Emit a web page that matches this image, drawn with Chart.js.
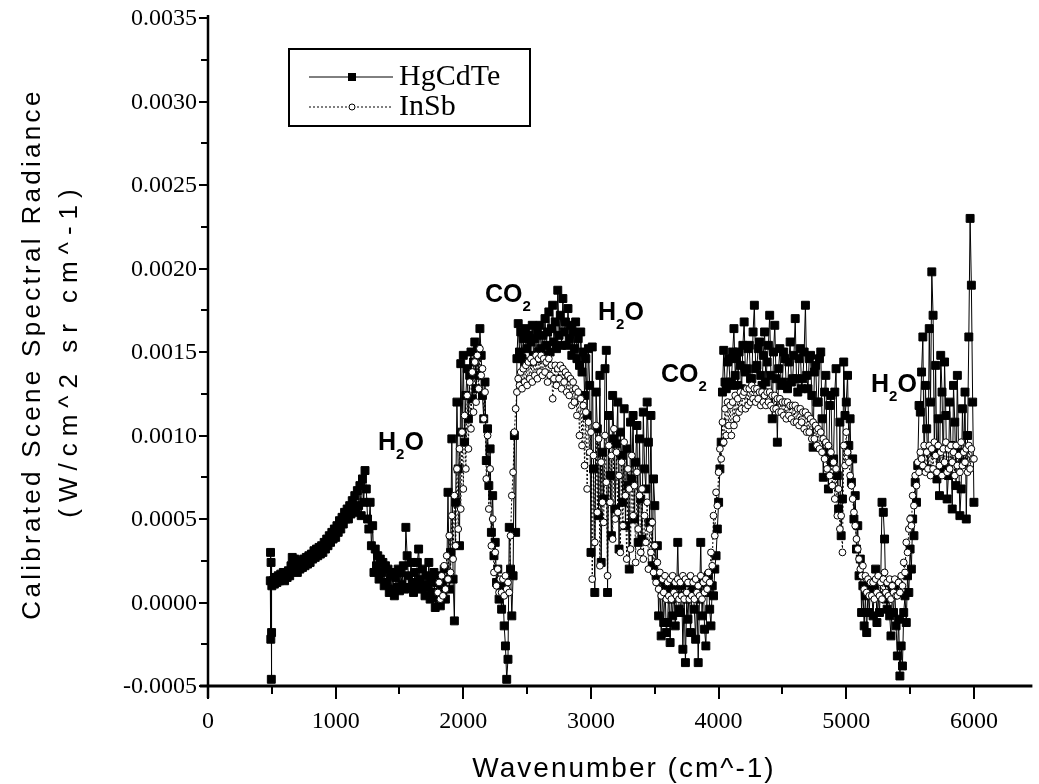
<!DOCTYPE html>
<html>
<head>
<meta charset="utf-8">
<script src="https://cdn.jsdelivr.net/npm/chart.js@4.4.1/dist/chart.umd.min.js"></script>
<style>
  body { margin: 0; background: #fff; }
  #wrap { width: 1039px; height: 784px; }
</style>
</head>
<body>
<div id="wrap"><canvas id="specChart" width="1039" height="784"></canvas></div>
<script>
// radiance values are listed in units of 1e-4 W/cm^2 sr cm^-1
const RAD_UNIT = 1e-4;
const WN_STEP = 10;

// HgCdTe: a few points at the band edge, then a regular grid from 500 cm^-1
const hgEdgeWn = [488, 490, 492, 494, 496, 498];
const hgEdgeRad = [1.3, 3.0, -2.2, 2.4, -4.6, -1.8];
const hgStart = 500;
const hgRad = [
  1.0, 1.3, 1.1, 1.5, 1.2, 1.6, 1.3, 1.7, 1.4, 1.8,            // 500
  1.3, 1.7, 1.5, 1.9, 1.6, 2.2, 2.7, 2.4, 2.6, 2.0,            // 600
  1.8, 2.3, 2.0, 2.5, 2.1, 2.6, 2.2, 2.7, 2.3, 2.8,            // 700
  2.4, 2.9, 2.6, 3.1, 2.7, 3.2, 2.8, 3.3, 2.9, 3.4,            // 800
  3.0, 3.6, 3.2, 3.8, 3.4, 4.0, 3.6, 4.2, 3.8, 4.4,            // 900
  3.9, 4.6, 4.2, 4.9, 4.4, 5.1, 4.7, 5.4, 5.0, 5.6,            // 1000
  5.0, 5.8, 5.3, 6.1, 5.6, 6.4, 5.4, 6.7, 5.8, 7.0,            // 1100
  5.2, 7.4, 6.0, 7.9, 6.8, 5.0, 4.4, 6.0, 3.4, 4.6,            // 1200
  1.8, 3.2, 2.2, 2.8, 1.4, 2.6, 1.8, 2.4, 1.0, 2.2,            // 1300
  1.2, 2.0, 0.6, 1.6, 0.8, 1.8, 0.4, 1.5, 0.9, 2.0,            // 1400
  0.7, 1.8, 1.1, 2.2, 0.8, 4.5, 2.8, 1.6, 0.9, 2.4,            // 1500
  1.2, 0.6, 1.8, 1.0, 2.4, 3.2, 1.4, 0.8, 2.0, 1.1,            // 1600
  0.4, 1.6, 0.9, 2.4, 0.2, 1.4, 0.6, 1.8, -0.3, 1.2,           // 1700
  0.3, 1.6, -0.2, 1.0, 0.5, 2.0, 0.2, 1.4, 6.6, 0.8,           // 1800
  3.0, 9.8, 1.4, -1.1, 6.0, 12.0, 8.0, 3.4, 14.3, 10.2,        // 1900
  14.8, 9.6, 12.4, 14.0, 11.0, 13.6, 15.0, 12.2, 14.4, 15.6,   // 2000
  12.8, 15.2, 13.6, 16.4, 14.8, 12.4, 11.0, 13.2, 8.5, 10.4,   // 2100
  7.0, 9.2, 4.2, 6.4, 2.8, 3.6, 1.2, 2.0, 0.2, 0.8,            // 2200
  -0.4, 1.0, -1.4, -2.6, -4.6, -3.4, 4.5, 2.0, -0.8, 1.6,      // 2300
  10.0, 4.2, 14.6, 16.7, 15.0, 16.2, 14.6, 15.8, 14.4, 16.4,   // 2400
  15.2, 16.0, 14.4, 15.6, 16.6, 14.8, 15.8, 14.6, 16.2, 15.0,  // 2500
  16.6, 15.2, 16.0, 14.8, 17.0, 15.4, 16.2, 17.4, 15.0, 16.4,  // 2600
  17.8, 15.6, 16.8, 15.2, 18.7, 16.0, 17.2, 15.4, 18.2, 16.2,  // 2700
  16.8, 15.4, 17.6, 15.8, 16.6, 14.8, 16.2, 15.2, 16.8, 14.6,  // 2800
  15.8, 14.2, 16.2, 13.8, 15.0, 12.4, 14.6, 11.2, 15.2, 13.0,  // 2900
  3.0, 15.3, 8.0, 0.6, 12.6, 10.4, 5.2, 13.6, 2.4, 9.0,        // 3000
  6.2, 14.0, 15.1, 0.6, 11.2, 7.6, 4.0, 12.4, 9.8, 5.6,        // 3100
  9.5, 12.0, 3.2, 10.2, 8.8, 6.0, 11.6, 4.6, 9.2, 7.0,         // 3200
  2.0, 10.8, 7.4, 11.2, 5.0, 8.4, 10.6, 3.6, 9.8, 6.2,         // 3300
  3.8, 11.4, 8.0, 6.8, 12.0, 9.6, 4.8, 11.2, 2.2, 7.4,         // 3400
  5.8, 1.6, 3.4, -0.8, 1.4, -2.0, 0.6, -1.2, 1.0, -1.8,        // 3500
  -1.2, 0.8, -2.4, 0.2, -0.8, 1.0, -1.4, 0.4, 3.6, -0.4,       // 3600
  -0.6, 1.0, -2.8, 0.4, -3.6, 0.2, -1.0, 1.2, -1.8, 0.6,       // 3700
  1.0, -0.4, -2.2, 0.8, -3.6, 0.2, 3.6, -0.8, 1.2, -1.6,       // 3800
  -2.6, 0.6, 1.6, -0.4, -1.4, 1.0, 0.4, 2.0, 2.8, 4.4,         // 3900
  6.0, 8.0, 9.6, 12.6, 15.1, 13.2, 12.8, 14.4, 14.6, 13.0,     // 4000
  13.2, 15.0, 16.4, 13.6, 14.6, 13.0, 15.0, 14.2, 12.8, 15.4,  // 4100
  16.8, 13.8, 14.0, 15.2, 15.4, 13.4, 13.4, 16.2, 17.8, 14.0,  // 4200
  14.2, 15.2, 15.6, 13.6, 13.0, 14.8, 16.2, 13.2, 14.4, 15.4,  // 4300
  17.2, 13.6, 11.0, 15.0, 16.6, 13.4, 9.6, 14.0, 15.2, 13.0,   // 4400
  13.2, 15.0, 14.6, 13.0, 12.8, 14.4, 15.6, 13.2, 13.4, 14.8,  // 4500
  17.0, 13.4, 12.6, 14.6, 15.2, 12.8, 13.4, 15.0, 17.8, 13.6,  // 4600
  12.8, 14.6, 14.8, 12.4, 9.3, 13.8, 14.2, 12.0, 12.0, 14.6,   // 4700
  15.0, 11.0, 7.5, 12.6, 13.6, 9.0, 6.8, 11.8, 12.4, 8.4,      // 4800
  8.6, 12.6, 14.0, 7.6, 5.6, 10.8, 4.0, 6.2, 14.4, 11.2,       // 4900
  12.0, 13.6, 9.4, 11.0, 7.2, 8.6, 5.0, 6.4, 3.2, 4.6,         // 5000
  1.6, 2.6, -0.6, 1.0, -1.4, 0.4, -1.8, 0.8, -0.6, 1.2,        // 5100
  0.6, -0.8, 1.0, 2.0, -1.2, 0.4, -0.6, 1.4, 6.0, 5.4,         // 5200
  3.8, 0.2, -0.4, 1.2, -0.8, -2.0, 0.6, -0.6, 0.8, -1.4,       // 5300
  -3.2, -1.0, -4.4, -2.6, -3.8, -0.6, 0.4, -1.2, 1.6, 0.6,     // 5400
  3.2, 2.0, 5.0, 4.0, 7.2, 6.0, 8.2, 11.8, 11.4, 13.8,         // 5500
  15.9, 8.0, 13.0, 10.4, 8.0, 16.4, 12.0, 19.8, 17.2, 9.0,     // 5600
  14.2, 7.4, 11.0, 6.4, 14.8, 12.6, 8.0, 14.4, 11.2, 6.2,      // 5700
  7.6, 12.0, 9.4, 5.6, 13.0, 10.8, 7.0, 13.6, 9.0, 5.2,        // 5800
  6.8, 11.6, 8.4, 12.6, 5.0, 10.0, 15.9, 23.0, 19.0, 12.0,     // 5900
  6.0                                                          // 6000
];

// InSb: regular grid from 1800 cm^-1
const inStart = 1800;
const inRad = [
  0.6, 1.2, 0.2, 1.6, 0.4, 2.2, 0.8, 2.8, 1.4, 4.0,            // 1800
  1.8, 5.2, 2.6, 6.4, 3.4, 8.0, 4.4, 9.2, 5.6, 10.2,           // 1900
  6.8, 11.2, 8.0, 12.4, 9.2, 13.2, 10.4, 13.8, 11.4, 14.4,     // 2000
  12.0, 14.8, 12.8, 15.2, 13.6, 14.0, 11.0, 12.6, 7.4, 10.0,   // 2100
  5.6, 8.0, 3.4, 5.0, 1.8, 3.0, 1.0, 2.0, 0.6, 1.4,            // 2200
  0.6, 1.4, 0.4, 1.6, 0.8, 1.2, 0.6, 4.0, 6.4, 7.8,            // 2300
  10.2, 11.6, 12.6, 13.4, 13.0, 13.8, 12.8, 14.0, 13.2, 14.2,  // 2400
  13.0, 14.4, 13.4, 14.6, 13.2, 14.4, 13.6, 14.8, 13.4, 14.6,  // 2500
  13.8, 14.8, 13.6, 14.6, 13.8, 14.4, 13.2, 14.6, 13.6, 14.2,  // 2600
  12.2, 13.4, 14.2, 13.0, 14.0, 13.4, 14.2, 12.8, 14.0, 13.2,  // 2700
  13.8, 12.6, 13.6, 12.4, 13.4, 11.8, 13.2, 12.0, 12.8, 11.2,  // 2800
  12.6, 10.0, 12.2, 9.4, 11.8, 8.2, 11.4, 6.8, 10.8, 9.0,      // 2900
  10.2, 1.4, 8.8, 3.6, 10.6, 5.4, 9.8, 2.2, 8.4, 6.0,          // 3000
  4.8, 10.0, 7.2, 1.6, 9.4, 6.0, 8.8, 3.8, 10.4, 5.0,          // 3100
  9.0, 5.4, 7.6, 3.0, 8.4, 4.6, 9.6, 6.4, 2.6, 8.0,            // 3200
  6.8, 3.2, 8.8, 5.2, 7.0, 2.4, 7.8, 4.4, 6.4, 3.0,            // 3300
  6.8, 2.6, 5.2, 3.6, 6.0, 2.0, 4.4, 3.0, 4.8, 1.8,            // 3400
  3.4, 1.2, 2.4, 0.8, 1.8, 0.4, 1.4, 0.6, 1.6, 0.2,            // 3500
  1.2, 0.4, 1.4, 0.2, 1.6, 0.6, 1.2, 0.4, 1.4, 0.2,            // 3600
  1.2, 0.4, 1.6, 0.2, 1.4, 0.6, 1.2, 0.2, 1.6, 0.4,            // 3700
  1.2, 0.2, 1.4, 0.6, 1.0, 0.4, 1.6, 0.2, 1.2, 0.6,            // 3800
  1.4, 0.8, 1.8, 1.2, 3.0, 2.2, 5.2, 4.0, 6.6, 5.8,            // 3900
  7.8, 9.2, 8.6, 10.8, 9.6, 11.6, 10.0, 12.0, 10.6, 11.8,      // 4000
  10.0, 12.0, 10.6, 12.4, 11.0, 12.2, 11.4, 12.6, 11.6, 12.4,  // 4100
  12.6, 11.6, 12.8, 11.8, 12.8, 12.0, 13.0, 12.2, 12.8, 12.0,  // 4200
  12.8, 12.2, 12.6, 11.8, 12.6, 12.0, 12.4, 11.8, 12.6, 12.0,  // 4300
  12.6, 11.8, 12.4, 11.6, 12.4, 11.6, 12.2, 11.4, 12.2, 11.4,  // 4400
  12.0, 11.2, 12.0, 11.0, 12.0, 11.2, 11.8, 11.0, 11.8, 10.8,  // 4500
  11.8, 10.8, 11.6, 10.6, 11.6, 10.8, 11.4, 10.4, 11.4, 10.2,  // 4600
  11.2, 10.2, 11.0, 9.8, 10.8, 9.8, 10.6, 9.4, 10.4, 9.2,      // 4700
  10.2, 9.0, 9.8, 8.6, 9.6, 8.0, 9.4, 7.6, 9.0, 7.0,           // 4800
  8.4, 6.2, 8.0, 5.2, 6.8, 4.4, 5.2, 3.0, 9.4, 8.2,            // 4900
  10.2, 9.0, 8.4, 7.6, 7.0, 6.2, 5.4, 4.6, 3.8, 3.2,           // 5000
  2.6, 2.0, 1.6, 2.2, 0.8, 1.6, 0.6, 1.4, 0.4, 1.2,            // 5100
  0.4, 1.2, 0.2, 1.4, 0.6, 1.6, 0.4, 1.2, 0.2, 1.4,            // 5200
  1.8, 0.6, 1.2, 0.4, 1.4, 0.2, 1.0, 0.6, 1.4, 0.4,            // 5300
  0.4, 1.2, 0.6, 1.6, 1.0, 2.4, 1.8, 3.6, 3.0, 4.4,            // 5400
  5.0, 4.6, 6.4, 5.8, 7.6, 7.0, 8.4, 7.8, 9.0, 8.6,            // 5500
  8.2, 9.4, 7.8, 9.0, 8.0, 9.4, 7.6, 9.2, 8.0, 9.6,            // 5600
  8.8, 7.8, 9.4, 8.2, 9.0, 7.6, 9.2, 8.4, 9.6, 7.8,            // 5700
  9.2, 8.0, 9.4, 8.4, 9.0, 7.6, 9.4, 8.2, 8.8, 7.8,            // 5800
  9.6, 8.2, 9.0, 8.4, 9.2, 7.8, 9.4, 8.0, 9.2, 8.6,            // 5900
  8.6                                                          // 6000
];

const xTicks = [0, 1000, 2000, 3000, 4000, 5000, 6000];
const xMinorTicks = [500, 1500, 2500, 3500, 4500, 5500];
const yTicks = [-0.0005, 0, 0.0005, 0.001, 0.0015, 0.002, 0.0025, 0.003, 0.0035];

const labels = [
  { main: 'H', sub: '2', tail: 'O', x: 378, y: 450 },
  { main: 'CO', sub: '2', tail: '', x: 485, y: 302 },
  { main: 'H', sub: '2', tail: 'O', x: 598, y: 320 },
  { main: 'CO', sub: '2', tail: '', x: 661, y: 382 },
  { main: 'H', sub: '2', tail: 'O', x: 871, y: 392 }
];

const hgPoints = hgEdgeWn.map((w, i) => ({ x: w, y: hgEdgeRad[i] * RAD_UNIT }))
  .concat(hgRad.map((v, i) => ({ x: hgStart + i * WN_STEP, y: v * RAD_UNIT })));
const inPoints = inRad.map((v, i) => ({ x: inStart + i * WN_STEP, y: v * RAD_UNIT }));

const serif = '"Liberation Serif", "Times New Roman", serif';
const sans = '"Liberation Sans", Arial, sans-serif';

const paperAxes = {
  id: 'paperAxes',
  afterDraw(chart) {
    const ctx = chart.ctx;
    const xs = chart.scales.x, ys = chart.scales.y;
    const area = chart.chartArea;
    ctx.save();
    ctx.strokeStyle = '#000';
    ctx.fillStyle = '#000';

    // axis lines
    ctx.lineWidth = 3;
    ctx.beginPath();
    ctx.moveTo(area.left - 8, area.bottom);
    ctx.lineTo(area.right, area.bottom);
    ctx.stroke();
    ctx.lineWidth = 2.5;
    ctx.beginPath();
    ctx.moveTo(area.left, area.top - 3);
    ctx.lineTo(area.left, area.bottom + 12);
    ctx.stroke();

    // ticks
    ctx.lineWidth = 2;
    xTicks.forEach(v => {
      const px = Math.round(xs.getPixelForValue(v));
      ctx.beginPath(); ctx.moveTo(px, area.bottom); ctx.lineTo(px, area.bottom + 13); ctx.stroke();
    });
    xMinorTicks.forEach(v => {
      const px = Math.round(xs.getPixelForValue(v));
      ctx.beginPath(); ctx.moveTo(px, area.bottom); ctx.lineTo(px, area.bottom + 8); ctx.stroke();
    });
    yTicks.forEach((v, i) => {
      const py = Math.round(ys.getPixelForValue(v));
      ctx.beginPath(); ctx.moveTo(area.left - 9, py); ctx.lineTo(area.left, py); ctx.stroke();
      if (i < yTicks.length - 1) {
        const pm = Math.round(ys.getPixelForValue(v + 0.00025));
        ctx.beginPath(); ctx.moveTo(area.left - 7, pm); ctx.lineTo(area.left, pm); ctx.stroke();
      }
    });

    // tick labels
    ctx.font = '24px ' + serif;
    ctx.textAlign = 'center';
    ctx.textBaseline = 'alphabetic';
    xTicks.forEach(v => ctx.fillText(String(v), xs.getPixelForValue(v), 728));
    ctx.textAlign = 'right';
    ctx.textBaseline = 'middle';
    yTicks.forEach(v => ctx.fillText(v.toFixed(4), 197, ys.getPixelForValue(v) + 1));

    // axis titles
    ctx.font = '28px ' + sans;
    ctx.letterSpacing = '2px';
    ctx.textAlign = 'center';
    ctx.textBaseline = 'alphabetic';
    ctx.fillText('Wavenumber (cm^-1)', 624, 777);
    ctx.save();
    ctx.translate(0, 354);
    ctx.rotate(-Math.PI / 2);
    ctx.font = '26px ' + sans;
    ctx.letterSpacing = '3.3px';
    ctx.textBaseline = 'middle';
    ctx.fillText('Calibrated Scene Spectral Radiance', 0, 33);
    ctx.letterSpacing = '7px';
    ctx.fillText('(W/cm^2 sr cm^-1)', 4, 70);
    ctx.restore();
    ctx.letterSpacing = '0px';

    // band labels
    ctx.textAlign = 'left';
    ctx.textBaseline = 'alphabetic';
    labels.forEach(l => {
      ctx.font = 'bold 25px ' + sans;
      ctx.fillText(l.main, l.x, l.y);
      let px = l.x + ctx.measureText(l.main).width;
      ctx.font = 'bold 15px ' + sans;
      ctx.fillText(l.sub, px, l.y + 9);
      px += ctx.measureText(l.sub).width;
      ctx.font = 'bold 25px ' + sans;
      ctx.fillText(l.tail, px, l.y);
    });

    // legend box
    ctx.fillStyle = '#fff';
    ctx.fillRect(289, 49, 241, 77);
    ctx.fillStyle = '#000';
    ctx.lineWidth = 2;
    ctx.strokeRect(289, 49, 241, 77);
    const rows = [
      { ds: chart.data.datasets[0], y: 77 },
      { ds: chart.data.datasets[1], y: 107 }
    ];
    rows.forEach(r => {
      ctx.lineWidth = 1;
      ctx.setLineDash(r.ds.borderDash || []);
      ctx.beginPath(); ctx.moveTo(309, r.y); ctx.lineTo(393, r.y); ctx.stroke();
      ctx.setLineDash([]);
      if (r.ds.pointStyle === 'rect') {
        ctx.fillRect(348, r.y - 4, 8, 8);
      } else {
        ctx.fillStyle = '#fff';
        ctx.beginPath(); ctx.arc(352, r.y, 3, 0, Math.PI * 2); ctx.fill(); ctx.stroke();
        ctx.fillStyle = '#000';
      }
      ctx.font = '30px ' + serif;
      ctx.textBaseline = 'middle';
      ctx.fillText(r.ds.label, 399, r.y);
    });
    ctx.restore();
  }
};

new Chart(document.getElementById('specChart'), {
  type: 'scatter',
  data: {
    datasets: [{
      label: 'HgCdTe',
      data: hgPoints,
      showLine: true,
      borderColor: '#000',
      borderWidth: 1,
      pointStyle: 'rect',
      pointRadius: 5.6,
      pointBackgroundColor: '#000',
      pointBorderColor: '#000',
      pointBorderWidth: 1,
      order: 2
    },
    {
      label: 'InSb',
      data: inPoints,
      showLine: true,
      borderColor: '#000',
      borderWidth: 1,
      borderDash: [2, 2],
      pointStyle: 'circle',
      pointRadius: 3.4,
      pointBackgroundColor: '#fff',
      pointBorderColor: '#000',
      pointBorderWidth: 1,
      order: 1
    }]
  },
  options: {
    responsive: false,
    animation: false,
    layout: { padding: { top: 18, left: 0, right: 0, bottom: 0 } },
    plugins: {
      legend: { display: false },
      tooltip: { enabled: false }
    },
    scales: {
      x: {
        type: 'linear',
        min: 0,
        max: 6458,
        grid: { display: false },
        border: { display: false },
        ticks: { display: false },
        afterFit: s => { s.height = 98; }
      },
      y: {
        type: 'linear',
        min: -0.0005,
        max: 0.0035,
        grid: { display: false },
        border: { display: false },
        ticks: { display: false },
        afterFit: s => { s.width = 208; }
      }
    }
  },
  plugins: [paperAxes]
});
</script>
</body>
</html>
